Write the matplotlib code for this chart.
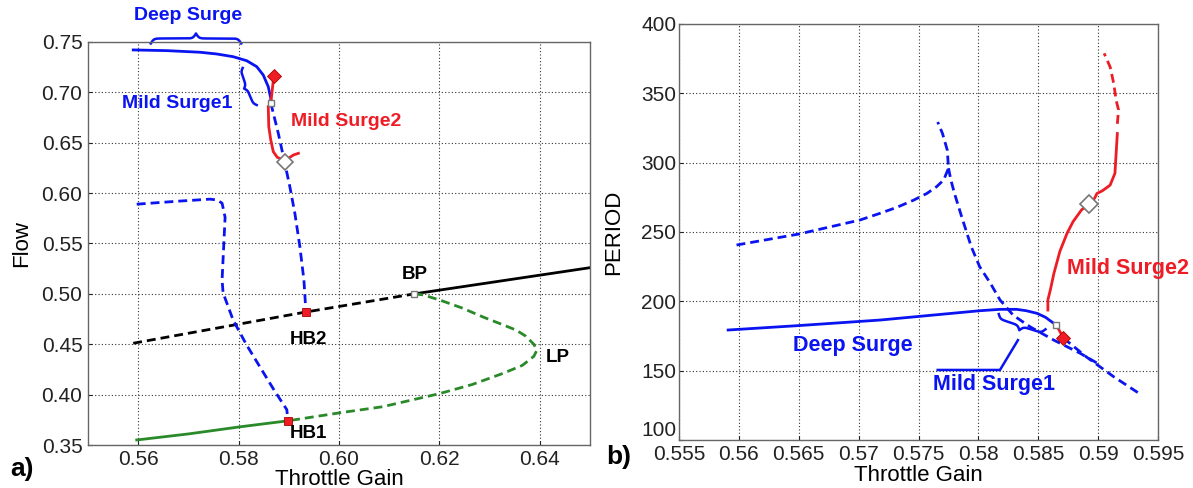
import numpy as np
import matplotlib
matplotlib.use("Agg")
import matplotlib.pyplot as plt
from matplotlib.ticker import FormatStrFormatter, FuncFormatter

plt.rcParams['font.family'] = ['Liberation Sans', 'DejaVu Sans']

# ---- panel a) flow vs throttle gain ----
deep_a_x = [0.5590, 0.5657, 0.5723, 0.5756, 0.5789, 0.5816, 0.5836, 0.5849, 0.5859, 0.5864, 0.5864]
deep_a_y = [0.7421, 0.7414, 0.7398, 0.7381, 0.7354, 0.7314, 0.7255, 0.7172, 0.7056, 0.6941, 0.6894]

mild2_a_x = [0.5864, 0.5870]
mild2_a_y = [0.6894, 0.716]
mild2_tail_x = [0.5859, 0.5860, 0.5864, 0.5869, 0.5877, 0.5886, 0.5899, 0.5909, 0.5919]
mild2_tail_y = [0.6858, 0.6659, 0.6527, 0.6411, 0.6355, 0.6335, 0.6345, 0.6378, 0.6395]

unst_a_x = [0.5864, 0.5879, 0.5892, 0.5902, 0.5912, 0.5922, 0.5930, 0.5934]
unst_a_y = [0.6894, 0.6593, 0.6296, 0.6063, 0.5799, 0.5467, 0.5137, 0.4822]

loop_a_x = [0.5597, 0.5680, 0.5743, 0.5757, 0.5767, 0.5773, 0.5770, 0.5767, 0.5769, 0.5789,
            0.5815, 0.5843, 0.5870, 0.5896, 0.5898]
loop_a_y = [0.589, 0.592, 0.594, 0.5932, 0.590, 0.576, 0.545, 0.514, 0.501, 0.474,
            0.450, 0.427, 0.405, 0.385, 0.374]

eq_unst_x = [0.559, 0.5934, 0.615]
eq_unst_y = [0.451, 0.482, 0.500]
eq_stab_x = [0.615, 0.65]
eq_stab_y = [0.500, 0.526]

fold_x = [0.615, 0.6167, 0.620, 0.6245, 0.6287, 0.6323, 0.6353, 0.6372, 0.6388, 0.6394,
          0.6388, 0.6365, 0.6326, 0.6265, 0.620, 0.6087, 0.6002, 0.5898]
fold_y = [0.500, 0.499, 0.494, 0.486, 0.477, 0.470, 0.464, 0.458, 0.450, 0.444,
          0.438, 0.429, 0.421, 0.410, 0.401, 0.388, 0.382, 0.374]
low_x = [0.5597, 0.5700, 0.5802, 0.5898]
low_y = [0.355, 0.361, 0.368, 0.374]

hb_x = [0.5898, 0.5934]
hb_y = [0.374, 0.482]
bp_pt = (0.615, 0.500)
pd_a = (0.5864, 0.6894)
red_a = (0.5870, 0.716)
wd_a = (0.5892, 0.631)

# ---- panel b) period vs throttle gain ----
deep_b_x = [0.5591, 0.5650, 0.5718, 0.5801, 0.5818, 0.5832, 0.5840, 0.5849, 0.5856, 0.5861, 0.5865]
deep_b_y = [179.3, 182.5, 186.5, 193.2, 194.2, 194.2, 193.2, 191.3, 188.5, 185.3, 183.0]

link_b_x = [0.5865, 0.5871]
link_b_y = [183.0, 173.5]

left_b_x = [0.5598, 0.5650, 0.5701, 0.5718, 0.5732, 0.5746, 0.5757, 0.5765, 0.5771, 0.5775,
            0.5774, 0.5770, 0.5766]
left_b_y = [240.6, 248.5, 258.6, 263.5, 267.8, 273.0, 277.8, 282.6, 287.5, 296.0,
            309.0, 321.0, 329.3]

down_b_x = [0.5775, 0.5777, 0.5780, 0.5786, 0.5794, 0.5801, 0.5810, 0.5818, 0.5829, 0.5843,
            0.5863, 0.5885, 0.5902]
down_b_y = [296.0, 287.5, 277.8, 261.0, 239.4, 225.0, 213.0, 201.0, 190.0, 181.7,
            172.0, 162.5, 154.0]

tail_b_x = [0.5871, 0.5890, 0.5913, 0.5934]
tail_b_y = [173.5, 160.0, 145.6, 133.7]

mild2_b_x = [0.5858, 0.5858, 0.5860, 0.5863, 0.5868, 0.5874, 0.5879, 0.5886, 0.5892, 0.5897,
             0.5899, 0.5902, 0.5904, 0.5910, 0.5914, 0.5915, 0.5916]
mild2_b_y = [193.7, 201.0, 208.0, 220.0, 236.0, 249.0, 257.4, 265.8, 270.0, 274.3,
             277.8, 279.0, 280.0, 283.8, 292.3, 306.7, 321.0]
mild2_b_dash_x = [0.5916, 0.5917, 0.5915, 0.5913, 0.5910, 0.5905]
mild2_b_dash_y = [328.0, 338.0, 345.0, 357.0, 369.0, 378.8]

pd_b = (0.5865, 183.0)
red_b = (0.5871, 173.5)
wd_b = (0.5892, 270.0)

BLUE = '#0a14f0'
RED = '#ee1c25'
GREEN = '#2a8a2a'
DASH = (3.2, 1.8)


def brace(ax, p0, p1, h, **kw):
    # curly brace between two data points, tip h pixels to the left of p0->p1
    T = ax.transData
    a = T.transform(p0)
    b = T.transform(p1)
    d = b - a
    L = np.hypot(*d)
    u = d / L
    n = np.array([-u[1], u[0]])
    s = np.linspace(0, 0.5, 101)
    beta = L / 1.5
    half = 1 / (1 + np.exp(-beta * s)) + 1 / (1 + np.exp(-beta * (s - 0.5)))
    half = (half - half[0]) / (half[-1] - half[0])
    prof = np.concatenate([half, half[::-1][1:]])
    ss = np.concatenate([s, (1 - s[::-1])[1:]])
    pts = a + np.outer(ss * L, u) + np.outer(prof * h, n)
    xy = T.inverted().transform(pts)
    ax.plot(xy[:, 0], xy[:, 1], clip_on=False, **kw)


def style(ax):
    ax.grid(True, color='#333333', linestyle=(0, (1, 2)), linewidth=0.8)
    for sp in ax.spines.values():
        sp.set_color('#666666')
        sp.set_linewidth(1.0)
    ax.tick_params(direction='in', length=3, labelsize=15, colors='#222222')
    ax.tick_params(axis='x', pad=3.5)


fig = plt.figure(figsize=(11.93, 4.88), dpi=100)

# ---------------- a) ----------------
ax = fig.add_axes([0.0738, 0.0881, 0.4208, 0.8259])
ax.set_xlim(0.55, 0.65)
ax.set_ylim(0.35, 0.75)
ax.set_xticks([0.56, 0.58, 0.60, 0.62, 0.64])
ax.set_yticks(np.arange(0.35, 0.751, 0.05))
ax.xaxis.set_major_formatter(FormatStrFormatter('%.2f'))
ax.yaxis.set_major_formatter(FormatStrFormatter('%.2f'))
style(ax)
ax.tick_params(axis='y', pad=4)

ax.plot(eq_unst_x, eq_unst_y, color='black', lw=2, dashes=DASH)
ax.plot(eq_stab_x, eq_stab_y, color='black', lw=2)
ax.plot(fold_x, fold_y, color=GREEN, lw=2, dashes=DASH)
ax.plot(low_x, low_y, color=GREEN, lw=2)
ax.plot(loop_a_x, loop_a_y, color=BLUE, lw=2, dashes=DASH)
ax.plot(unst_a_x, unst_a_y, color=BLUE, lw=2, dashes=DASH)
ax.plot(deep_a_x, deep_a_y, color=BLUE, lw=2)
ax.plot(mild2_a_x, mild2_a_y, color=RED, lw=2)
ax.plot(mild2_tail_x, mild2_tail_y, color=RED, lw=2)

ax.plot(hb_x, hb_y, 's', color=RED, ms=5.5, mec='#aa0000', mew=0.6)
ax.plot(*bp_pt, 's', mfc='white', mec='#777777', ms=5, mew=1)
ax.plot(*pd_a, 's', mfc='white', mec='#777777', ms=5, mew=1, zorder=5)
ax.plot(*red_a, 'D', color=RED, ms=7.5, mec='#aa0000', mew=0.6, zorder=5)
ax.plot(*wd_a, 'D', mfc='white', mec='#777777', ms=8.5, mew=1.2, zorder=5)

ax.text(0.5699, 0.7758, 'Deep Surge', color=BLUE, fontsize=14, fontweight='bold',
        ha='center', va='center', clip_on=False)
brace(ax, (0.5625, 0.7485), (0.5805, 0.7485), 10, color=BLUE, lw=1.8)
ax.text(0.5677, 0.689, 'Mild Surge1', color=BLUE, fontsize=14, fontweight='bold',
        ha='center', va='center')
brace(ax, (0.5836, 0.6874), (0.5808, 0.7242), 6, color=BLUE, lw=1.8)
ax.text(0.6015, 0.671, 'Mild Surge2', color=RED, fontsize=14, fontweight='bold',
        ha='center', va='center')
ax.text(0.615, 0.519, 'BP', fontsize=13.5, fontweight='bold', ha='center', va='center')
ax.text(0.594, 0.455, 'HB2', fontsize=13.5, fontweight='bold', ha='center', va='center')
ax.text(0.594, 0.361, 'HB1', fontsize=13.5, fontweight='bold', ha='center', va='center')
ax.text(0.6412, 0.437, 'LP', fontsize=13.5, fontweight='bold', ha='left', va='center')

ax.set_xlabel('Throttle Gain', fontsize=16, labelpad=0)
ax.set_ylabel('Flow', fontsize=16, labelpad=7)

# ---------------- b) ----------------
bx = fig.add_axes([0.5692, 0.0984, 0.4015, 0.8525])
bx.set_xlim(0.555, 0.595)
bx.set_ylim(100, 400)
bx.set_xticks(np.arange(0.555, 0.5951, 0.005))
bx.set_yticks(np.arange(100, 401, 50))
bx.xaxis.set_major_formatter(FuncFormatter(lambda v, p: '%g' % round(v, 3)))
style(bx)
bx.tick_params(axis='y', pad=2)
# lowest period label sits on the axis line
bx.yaxis.get_major_ticks()[0].label1.set_verticalalignment('bottom')

bx.plot(left_b_x, left_b_y, color=BLUE, lw=2, dashes=DASH)
bx.plot(down_b_x, down_b_y, color=BLUE, lw=2, dashes=DASH)
bx.plot(tail_b_x, tail_b_y, color=BLUE, lw=2, dashes=DASH)
bx.plot(deep_b_x, deep_b_y, color=BLUE, lw=2)
bx.plot(link_b_x, link_b_y, color=RED, lw=2)
bx.plot(mild2_b_x, mild2_b_y, color=RED, lw=2)
bx.plot(mild2_b_dash_x, mild2_b_dash_y, color=RED, lw=2, dashes=DASH)

bx.plot(*pd_b, 's', mfc='white', mec='#777777', ms=5, mew=1, zorder=5)
bx.plot(*red_b, 'D', color=RED, ms=7.5, mec='#aa0000', mew=0.6, zorder=5)
bx.plot(*wd_b, 'D', mfc='white', mec='#777777', ms=9, mew=1.2, zorder=5)

bx.text(0.5695, 168.0, 'Deep Surge', color=BLUE, fontsize=15.5, fontweight='bold',
        ha='center', va='center')
bx.text(0.5813, 140.0, 'Mild Surge1', color=BLUE, fontsize=15.5, fontweight='bold',
        ha='center', va='center')
brace(bx, (0.5856, 179.8), (0.5817, 190.8), 9, color=BLUE, lw=1.8)
bx.plot([0.5833, 0.5818, 0.5766], [172.0, 150.5, 150.5], color=BLUE, lw=1.8)
bx.text(0.5925, 224.0, 'Mild Surge2', color=RED, fontsize=15.5, fontweight='bold',
        ha='center', va='center', clip_on=False)

bx.set_xlabel('Throttle Gain', fontsize=16, labelpad=1)
bx.set_ylabel('PERIOD', fontsize=16, labelpad=12)

fig.text(0.009, 0.039, 'a)', fontsize=19, fontweight='bold', va='center')
fig.text(0.508, 0.064, 'b)', fontsize=19, fontweight='bold', va='center')

fig.savefig('out.png', dpi=100)
